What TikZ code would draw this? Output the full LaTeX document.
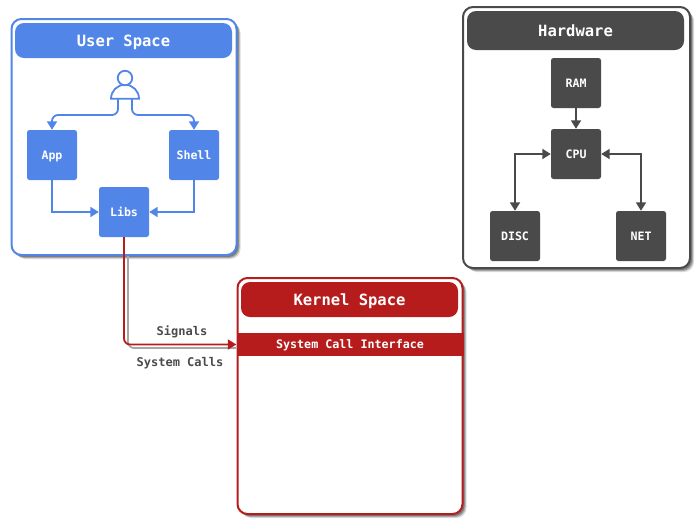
\documentclass[tikz,border=0pt]{standalone}
\usepackage{fontspec}
\setmonofont{DejaVu Sans Mono}
\usetikzlibrary{positioning, arrows.meta, shadows}
\definecolor{userblue}{HTML}{5186E8}
\definecolor{kernelred}{HTML}{B71C1C}
\definecolor{hwgrey}{HTML}{4A4A4A}
\tikzset{
    softshadow/.style={
        drop shadow={shadow xshift=4pt, shadow yshift=-4pt, fill=black, opacity=.14},
        drop shadow={shadow xshift=3pt, shadow yshift=-3pt, fill=black, opacity=.22},
        drop shadow={shadow xshift=2pt, shadow yshift=-2pt, fill=black, opacity=.28}},
    panel/.style={draw=#1, fill=white, line width=2pt, rounded corners=10pt, inner sep=0pt, minimum width=225pt, softshadow},
    paneltitle/.style={fill=#1, text=white, rounded corners=9pt, inner sep=0pt, minimum width=217pt, text height=11pt, text depth=0pt, font=\ttfamily\bfseries\fontsize{15.5}{18}\selectfont},
    unit/.style={fill=#1, text=white, rounded corners=2.5pt, inner sep=0pt, minimum size=50pt, text height=8.4pt, text depth=0pt, font=\ttfamily\bfseries\fontsize{11.6}{13}\selectfont},
    link/.style={draw=#1, line width=1.8pt, rounded corners=6pt, >={Triangle[length=8.5pt,width=10pt]}},
    caption/.style={text=hwgrey, inner sep=0pt, text height=8.7pt, text depth=0pt, font=\ttfamily\bfseries\fontsize{12}{14}\selectfont}
}

\begin{document}
\begin{tikzpicture}[x=1pt, y=-1pt]
    \useasboundingbox (0,0) rectangle (700,520);

    % user space
    \node[panel=userblue, minimum height=236pt] (userbox) at (124,137) {};
    \node[paneltitle=userblue, minimum height=35pt] (usertitle) at (123.5,40.5) {User Space};
    \coordinate (userleft) at (118,98);
    \coordinate (userright) at (132,98);
    \node[unit=userblue] (app) at (52,155) {App};
    \node[unit=userblue] (shell) at (194,155) {Shell};
    \node[unit=userblue] (libs) at (124,212) {Libs};
    \draw[link=userblue, ->] (userleft) |- (85,115) -| (app.north);
    \draw[link=userblue, ->] (userright) |- (165,115) -| (shell.north);
    \draw[link=userblue, ->, rounded corners=0pt] (app.south) |- (libs.west);
    \draw[link=userblue, ->, rounded corners=0pt] (shell.south) |- (libs.east);
    \draw[userblue, fill=white, line width=1.8pt] (111,98.7) arc (180:360:14) -- cycle;
    \node[draw=userblue, fill=white, circle, line width=1.8pt, inner sep=0pt, minimum size=14.5pt] (userhead) at (125,78) {};

    % kernel space
    \node[panel=kernelred, minimum height=236pt] (kernelbox) at (350,396) {};
    \node[paneltitle=kernelred, minimum height=35pt] (kerneltitle) at (349.5,299.5) {Kernel Space};
    \node[fill=kernelred, text=white, inner sep=0pt, minimum width=227pt, minimum height=23pt, text height=8.4pt, text depth=0pt, font=\ttfamily\bfseries\fontsize{11.7}{13}\selectfont] (syscall) at (350,344.5) {System Call Interface};

    % hardware
    \node[panel=hwgrey, minimum width=227pt, minimum height=261pt] (hwbox) at (576.5,137.5) {};
    \node[paneltitle=hwgrey, minimum height=39pt] (hwtitle) at (575.5,30.5) {Hardware};
    \node[unit=hwgrey] (ram) at (576,83) {RAM};
    \node[unit=hwgrey] (cpu) at (576,154) {CPU};
    \node[unit=hwgrey] (disc) at (515,236) {DISC};
    \node[unit=hwgrey] (net) at (641,236) {NET};
    \draw[link=hwgrey, ->, rounded corners=0pt] (ram) -- (cpu);
    \draw[link=hwgrey, <->, rounded corners=0pt] (cpu.west) -| (disc.north);
    \draw[link=hwgrey, <->, rounded corners=0pt] (cpu.east) -| (net.north);

    % links between the spaces
    \coordinate (signalstart) at (128,256);
    \coordinate (signalend) at (236,348);
    \draw[draw=black!35, line width=1.8pt, rounded corners=6pt] (signalstart) |- (signalend);
    \draw[link=kernelred, ->] (libs.south) |- (syscall.west);
    \node[caption] (signals) at (182,331) {Signals};
    \node[caption] (syscalls) at (180,362) {System Calls};
\end{tikzpicture}
\end{document}
